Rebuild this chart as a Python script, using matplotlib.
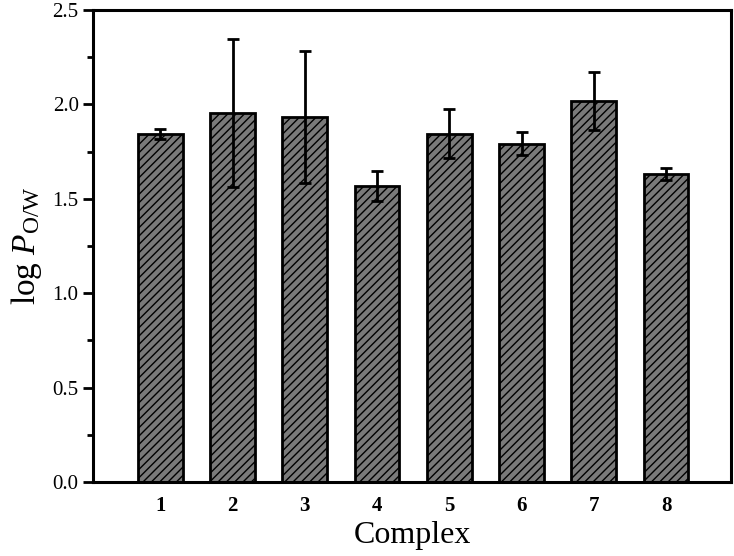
import matplotlib.pyplot as plt
from matplotlib.ticker import MultipleLocator

plt.rcParams['font.family'] = ['Liberation Serif', 'DejaVu Serif']
plt.rcParams['mathtext.fontset'] = 'custom'
plt.rcParams['mathtext.rm'] = 'Liberation Serif'
plt.rcParams['mathtext.it'] = 'Liberation Serif:italic'
plt.rcParams['hatch.linewidth'] = 1.0

# data
complexes = ['1', '2', '3', '4', '5', '6', '7', '8']
log_p = [1.845, 1.955, 1.932, 1.570, 1.845, 1.792, 2.018, 1.632]
err = [0.027, 0.39, 0.35, 0.08, 0.13, 0.06, 0.155, 0.033]

fig = plt.figure(figsize=(7.34, 5.56), dpi=100)
ax = fig.add_axes([0.127, 0.133, 0.869, 0.849])

x = range(1, len(complexes) + 1)
ax.bar(x, log_p, width=0.62, color='#7a7a7a', edgecolor='black',
       linewidth=2.0, hatch='////', zorder=2)
ax.errorbar(x, log_p, yerr=err, fmt='none', ecolor='black',
            elinewidth=2.0, capsize=4.3, capthick=2.0, zorder=3)

ax.set_xlim(0.07, 8.9)
ax.set_ylim(0, 2.5)
ax.set_xticks(list(x))
ax.set_xticklabels(complexes, fontweight='bold', fontsize=15)
ax.yaxis.set_major_locator(MultipleLocator(0.5))
ax.yaxis.set_minor_locator(MultipleLocator(0.25))
ax.yaxis.set_major_formatter(plt.FormatStrFormatter('%.1f'))
ax.tick_params(axis='y', which='major', direction='out', length=7, width=2, labelsize=15)
ax.tick_params(axis='y', which='minor', direction='out', length=4, width=2)
ax.tick_params(axis='x', length=0, pad=10)
for s in ax.spines.values():
    s.set_linewidth(2.2)

ax.set_xlabel('Complex', fontsize=23, labelpad=4)
ax.set_ylabel(r'log $P_{\mathrm{O/W}}$', fontsize=24, labelpad=6)

fig.savefig('out.png', dpi=100)
